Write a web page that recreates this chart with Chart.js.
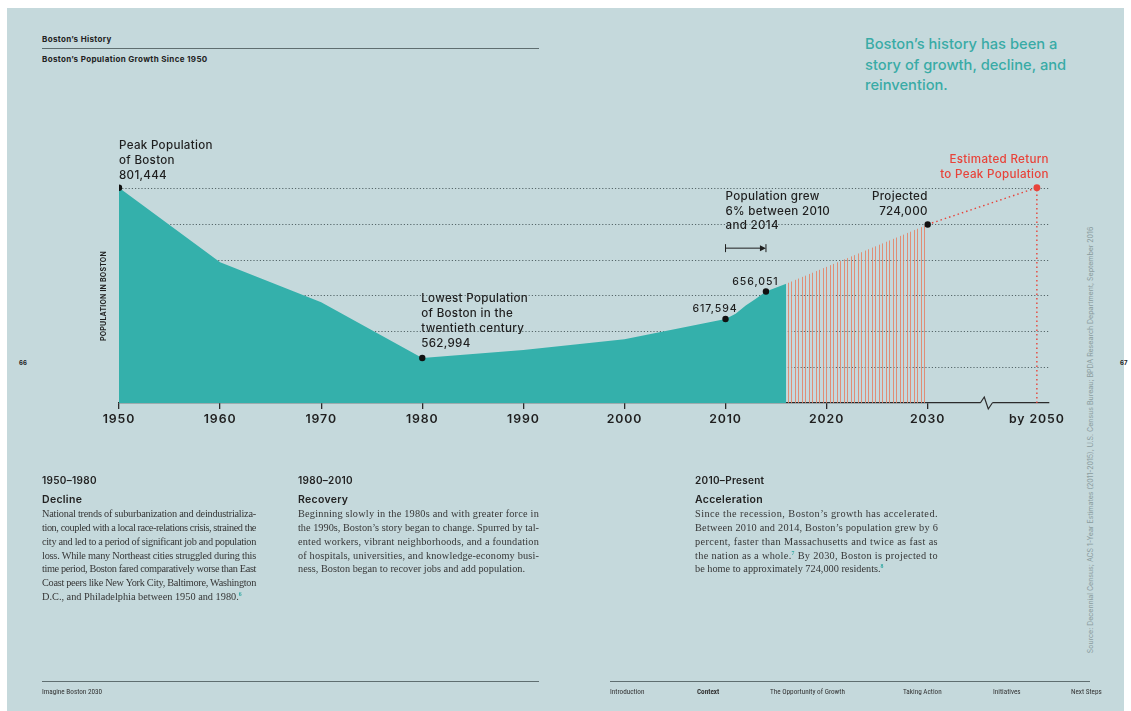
<!DOCTYPE html>
<html>
<head>
<meta charset="utf-8">
<script src="https://cdn.jsdelivr.net/npm/chart.js@4.4.1/dist/chart.umd.min.js"></script>
<style>
  body { margin: 0; background: #ffffff; }
  #page { position: relative; width: 1131px; height: 711px; overflow: hidden; font-family: Inter, "Open Sans", sans-serif; color: #222; }
  #paper { position: absolute; left: 7px; top: 8px; width: 1117px; height: 703px; background: #c5d9dc; }
  #chart { position: absolute; left: 0; top: 0; }
  .abs { position: absolute; white-space: nowrap; }
  .small { font-size: 8px; font-weight: 700; line-height: 10px; letter-spacing: 0.35px; }
  .rule { position: absolute; height: 1px; background: #5f6e70; }
  .teal { font-size: 14.7px; font-weight: 500; line-height: 20.5px; color: #39aba6; }
  .colh { font-size: 10px; font-weight: 600; line-height: 12px; letter-spacing: 0.3px; }
  .body { font-family: "Liberation Serif", serif; font-size: 10.3px; line-height: 13.85px; color: #363636; }
  .body div { white-space: nowrap; text-align: justify; text-align-last: justify; }
  .body div.last { text-align-last: left; }
  sup { color: #2fa7a2; font-size: 5.8px; font-weight: bold; vertical-align: 4px; line-height: 0; }
  .foot { font-family: "Liberation Sans Narrow", "Roboto Condensed", sans-serif; font-size: 7.2px; line-height: 9px; color: #333; }
</style>
</head>
<body>
<div id="page">
  <div id="paper"></div>

  <div class="abs small" style="left:42px; top:34px;">Boston’s History</div>
  <div class="rule" style="left:42px; top:48px; width:497px;"></div>
  <div class="abs small" style="left:42px; top:54px;">Boston’s Population Growth Since 1950</div>

  <div class="abs teal" style="left:865px; top:34px;">Boston’s history has been a<br>story of growth, decline, and<br>reinvention.</div>

  <div class="abs" style="left:19px; top:359px; font-size:6px; font-weight:700;">66</div>
  <div class="abs" style="left:1120px; top:359px; font-size:6px; font-weight:700;">67</div>

  <div class="abs" style="left:1090px; top:440px; transform: translate(-50%, -50%) rotate(-90deg); font-size:7px; color:#8a9c9e;">Source: Decennial Census; ACS 1-Year Estimates (2011-2015), U.S. Census Bureau; BPDA Research Department, September 2016</div>

  <canvas id="chart" width="1131" height="711"></canvas>

  <div class="abs colh" style="left:42px; top:474px;">1950–1980</div>
  <div class="abs colh" style="left:42px; top:494px; font-size:10.5px;">Decline</div>
  <div class="abs body" style="left:42px; top:507px; width:214px;">
    <div>National trends of suburbanization and deindustrializa-</div>
    <div>tion, coupled with a local race-relations crisis, strained the</div>
    <div>city and led to a period of significant job and population</div>
    <div>loss. While many Northeast cities struggled during this</div>
    <div>time period, Boston fared comparatively worse than East</div>
    <div>Coast peers like New York City, Baltimore, Washington</div>
    <div class="last">D.C., and Philadelphia between 1950 and 1980.<sup>6</sup></div>
  </div>

  <div class="abs colh" style="left:298px; top:474px;">1980–2010</div>
  <div class="abs colh" style="left:298px; top:494px; font-size:10.5px;">Recovery</div>
  <div class="abs body" style="left:298px; top:507px; width:241px;">
    <div>Beginning slowly in the 1980s and with greater force in</div>
    <div>the 1990s, Boston’s story began to change. Spurred by tal-</div>
    <div>ented workers, vibrant neighborhoods, and a foundation</div>
    <div>of hospitals, universities, and knowledge-economy busi-</div>
    <div class="last">ness, Boston began to recover jobs and add population.</div>
  </div>

  <div class="abs colh" style="left:695px; top:474px;">2010–Present</div>
  <div class="abs colh" style="left:695px; top:494px; font-size:10.5px;">Acceleration</div>
  <div class="abs body" style="left:695px; top:507px; width:243px;">
    <div>Since the recession, Boston’s growth has accelerated.</div>
    <div>Between 2010 and 2014, Boston’s population grew by 6</div>
    <div>percent, faster than Massachusetts and twice as fast as</div>
    <div>the nation as a whole.<sup>7</sup> By 2030, Boston is projected to</div>
    <div class="last">be home to approximately 724,000 residents.<sup>8</sup></div>
  </div>

  <div class="rule" style="left:42px; top:681px; width:497px;"></div>
  <div class="rule" style="left:610px; top:681px; width:480px;"></div>
  <div class="abs foot" style="left:42px; top:687px;">Imagine Boston 2030</div>
  <div class="abs foot" style="left:610px; top:687px;">Introduction</div>
  <div class="abs foot" style="left:697px; top:687px; font-weight:700;">Context</div>
  <div class="abs foot" style="left:770px; top:687px;">The Opportunity of Growth</div>
  <div class="abs foot" style="left:903px; top:687px;">Taking Action</div>
  <div class="abs foot" style="left:993px; top:687px;">Initiatives</div>
  <div class="abs foot" style="left:1071px; top:687px;">Next Steps</div>
</div>

<script>
// population history
const years = [1950, 1960, 1970, 1980, 1990, 2000, 2010, 2011, 2012, 2013, 2014, 2016];
const population = [801444, 697197, 641071, 562994, 574283, 589141, 617594, 625087, 636479, 645966, 656051, 667000];

// projection (hatched) and the return to peak (red dotted)
const projYears = [2016, 2030];
const projPop = [667000, 750000];
const returnYears = [2030, 2050];
const returnPop = [750000, 801444];

// marked points
const markYears = [1950, 1980, 2010, 2014, 2030];
const markPop = [801444, 562994, 617594, 656051, 750000];

const tickYears = [1950, 1960, 1970, 1980, 1990, 2000, 2010, 2020, 2030, 2050];
const tickLabels = ['1950', '1960', '1970', '1980', '1990', '2000', '2010', '2020', '2030', 'by 2050'];

const peakText = ['Peak Population', 'of Boston', '801,444'];
const lowText = ['Lowest Population', 'of Boston in the', 'twentieth century', '562,994'];
const growText = ['Population grew', '6% between 2010', 'and 2014'];
const projText = ['Projected', '724,000'];
const returnText = ['Estimated Return', 'to Peak Population'];

const TEAL = '#34b0ab';
const RED = '#e8433a';
const INK = '#1f1f1f';

// the axis is broken after 2030
function xPos(year) {
    return year <= 2030 ? year : 2030 + (year - 2030) * 0.54;
}
function pts(xs, ys) {
    return xs.map((x, i) => ({ x: xPos(x), y: ys[i] }));
}

// spread or squeeze each body line with letter spacing so it fills the column
document.querySelectorAll('.body').forEach(b => {
    const w = b.clientWidth;
    b.querySelectorAll('div').forEach(d => {
        const s = document.createElement('span');
        while (d.firstChild) s.appendChild(d.firstChild);
        d.appendChild(s);
        d.style.textAlignLast = 'left';
        const nat = s.getBoundingClientRect().width;
        d.style.textAlignLast = '';
        const n = s.textContent.length;
        let ls = (w - nat) / n;
        if (d.classList.contains('last')) ls = Math.min(ls, 0);
        ls = Math.max(-0.8, Math.min(0.7, ls));
        d.style.letterSpacing = ls.toFixed(3) + 'px';
    });
});

const canvas = document.getElementById('chart');
const ctx = canvas.getContext('2d');

// vertical hatching for the projection
const tile = document.createElement('canvas');
tile.width = 7; tile.height = 8;
const tctx = tile.getContext('2d');
tctx.fillStyle = 'rgba(228, 128, 100, 0.85)';
tctx.fillRect(0, 0, 1, 8);
tctx.fillRect(4, 0, 1, 8);
const hatch = ctx.createPattern(tile, 'repeat');

function drawLines(c, lines, x, y, lh, align, font, color, spacing) {
    c.save();
    c.font = font;
    c.fillStyle = color;
    c.textAlign = align;
    c.textBaseline = 'middle';
    c.letterSpacing = spacing || '0px';
    lines.forEach((t, i) => c.fillText(t, x, y + i * lh));
    c.restore();
}

const annotate = {
    id: 'annotate',
    beforeDraw(chart) {
        chart.ctx.letterSpacing = '0.9px';
    },
    afterDraw(chart) {
        const c = chart.ctx;
        const xs = chart.scales.x, ys = chart.scales.y;
        const px = yr => xs.getPixelForValue(xPos(yr));
        const py = v => ys.getPixelForValue(v);
        const big = '500 11.6px Inter, "Open Sans", sans-serif';
        const num = '500 10.5px Inter, "Open Sans", sans-serif';

        // broken axis
        const bx = px(2040) + 3, by = ys.bottom;
        c.save();
        c.fillStyle = '#c5d9dc';
        c.fillRect(bx - 5, by - 2, 12, 4);
        c.strokeStyle = '#2b2b2b';
        c.lineWidth = 1.2;
        c.beginPath();
        c.moveTo(bx - 5, by);
        c.lineTo(bx - 1, by - 6);
        c.lineTo(bx + 3, by + 6);
        c.lineTo(bx + 7, by);
        c.stroke();
        c.restore();

        // y title
        c.save();
        c.translate(104, (ys.top + ys.bottom) / 2 + 18);
        c.rotate(-Math.PI / 2);
        drawLines(c, ['POPULATION IN BOSTON'], 0, 0, 0, 'center', '700 7px Inter, sans-serif', INK, '0.2px');
        c.restore();

        drawLines(c, peakText, px(1950), py(801444) - 42.5, 15, 'left', big, INK, '0.3px');
        drawLines(c, lowText, px(1980) - 1, py(562994) - 59, 14.7, 'left', big, INK, '0.3px');
        drawLines(c, ['617,594'], px(2010) - 10.5, py(617594) - 10.5, 0, 'center', num, INK, '0.9px');
        drawLines(c, ['656,051'], px(2014) - 10.5, py(656051) - 9.5, 0, 'center', num, INK, '0.9px');
        drawLines(c, growText, px(2010), py(750000) - 28, 14.7, 'left', big, INK, '0.3px');
        drawLines(c, projText, px(2030), py(750000) - 28, 15, 'right', big, INK, '0.3px');
        drawLines(c, returnText, px(2050) + 12, py(801444) - 28, 15, 'right', big, RED, '0.3px');

        // 2010-2014 bracket
        const ax0 = px(2010), ax1 = px(2014), ay = py(700000) - 12;
        c.save();
        c.strokeStyle = INK;
        c.fillStyle = INK;
        c.lineWidth = 1;
        c.beginPath();
        c.moveTo(ax0, ay - 4); c.lineTo(ax0, ay + 4);
        c.moveTo(ax1, ay - 4); c.lineTo(ax1, ay + 4);
        c.moveTo(ax0, ay); c.lineTo(ax1 - 4, ay);
        c.stroke();
        c.beginPath();
        c.moveTo(ax1, ay); c.lineTo(ax1 - 6, ay - 3); c.lineTo(ax1 - 6, ay + 3);
        c.closePath();
        c.fill();
        c.restore();
    }
};

new Chart(ctx, {
    type: 'line',
    data: {
        datasets: [
            {
                type: 'scatter',
                data: pts(markYears, markPop),
                pointRadius: 3.2,
                pointBackgroundColor: '#111',
                pointBorderWidth: 0
            },
            {
                data: pts(returnYears, returnPop),
                borderColor: RED,
                borderWidth: 1.4,
                borderDash: [1.5, 3],
                pointRadius: [0, 3.4],
                pointBackgroundColor: RED,
                pointBorderWidth: 0,
                fill: false
            },
            {
                data: pts([2050, 2050], [500000, 801444]),
                borderColor: RED,
                borderWidth: 1.4,
                borderDash: [1.5, 3],
                pointRadius: 0,
                fill: false
            },
            {
                data: pts(projYears, projPop),
                borderWidth: 0,
                borderColor: 'rgba(0,0,0,0)',
                backgroundColor: hatch,
                pointRadius: 0,
                fill: 'start'
            },
            {
                data: pts(years, population),
                borderWidth: 0,
                borderColor: TEAL,
                backgroundColor: TEAL,
                pointRadius: 0,
                tension: 0,
                fill: 'start'
            }
        ]
    },
    options: {
        responsive: false,
        animation: false,
        devicePixelRatio: 1,
        events: [],
        layout: { padding: { left: 119, right: 82, top: 153, bottom: 268 } },
        plugins: { legend: { display: false }, tooltip: { enabled: false } },
        scales: {
            x: {
                type: 'linear',
                min: 1950,
                max: 2042,
                afterFit: s => { s.height = 40; },
                afterBuildTicks: s => { s.ticks = tickYears.map(y => ({ value: xPos(y) })); },
                ticks: {
                    autoSkip: false,
                    maxRotation: 0,
                    padding: 3,
                    color: INK,
                    font: { family: 'Inter, "Open Sans", sans-serif', size: 12.3, weight: 600 },
                    callback: (v, i) => tickLabels[i]
                },
                grid: {
                    drawOnChartArea: false,
                    drawTicks: true,
                    tickLength: 6,
                    lineWidth: 1.3,
                    color: c => c.index === tickYears.length - 1 ? 'rgba(0,0,0,0)' : '#2b2b2b'
                },
                border: { display: true, color: '#2b2b2b', width: 1.3 }
            },
            y: {
                type: 'linear',
                min: 500000,
                max: 850000,
                afterFit: s => { s.width = 0; },
                ticks: { display: false, stepSize: 50000 },
                grid: {
                    drawTicks: false,
                    lineWidth: 1,
                    color: c => (c.tick.value === 500000 || c.tick.value === 850000) ? 'rgba(0,0,0,0)' : '#56676a'
                },
                border: { display: false, dash: [1.2, 2] }
            }
        }
    },
    plugins: [annotate]
});
</script>
</body>
</html>
